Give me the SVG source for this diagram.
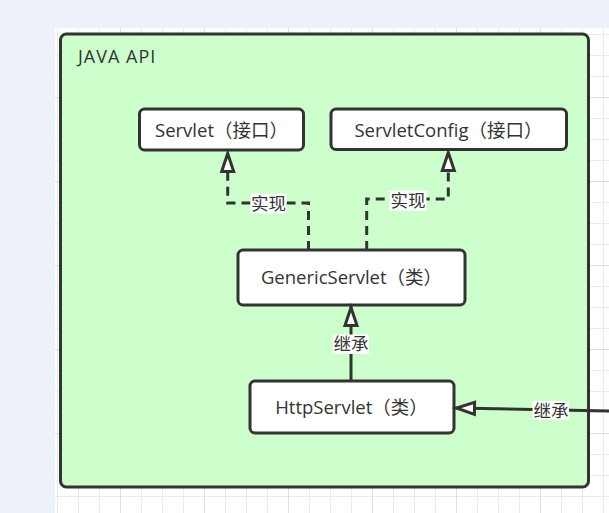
<svg xmlns="http://www.w3.org/2000/svg" width="609" height="513" viewBox="0 0 609 513">
  <style>
    .node rect { fill: #ffffff; stroke: #333333; stroke-width: 3; }
    .node text, .lbl text, .title { font-family: "Open Sans", "Noto Sans CJK SC", sans-serif; fill: #333333; }
    .node text { font-size: 18.5px; text-anchor: middle; }
    .conn path { fill: none; stroke: #333333; stroke-width: 3; }
    .dash { stroke-dasharray: 9 6; }
    .lbl rect { fill: #ffffff; stroke: none; }
    .lbl text { font-size: 17.5px; text-anchor: middle; font-family: "Noto Sans CJK SC", sans-serif; }
  </style>
  <defs>
    <pattern id="gMinor" patternUnits="userSpaceOnUse" x="57" y="34" width="21" height="21">
      <path d="M0.5,0 V21 M0,0.5 H21" fill="none" stroke="#ebebeb" stroke-width="1"/>
    </pattern>
    <pattern id="gMajor" patternUnits="userSpaceOnUse" x="120" y="97" width="84" height="84">
      <path d="M0.5,0 V84 M0,0.5 H84" fill="none" stroke="#dedede" stroke-width="1"/>
    </pattern>
    <marker id="tri" markerUnits="userSpaceOnUse" viewBox="0 0 24 16" refX="21" refY="8" markerWidth="24" markerHeight="16" orient="auto" overflow="visible">
      <path d="M2,2 L20,8 L2,14 Z" fill="#ffffff" stroke="#333333" stroke-width="3" stroke-dasharray="none" stroke-linejoin="miter"/>
    </marker>
  </defs>

  <rect x="0" y="0" width="609" height="513" fill="#edf1f9"/>
  <rect x="55" y="28" width="554" height="485" fill="#ffffff"/>
  <rect x="55" y="28" width="554" height="485" fill="url(#gMinor)"/>
  <rect x="55" y="28" width="554" height="485" fill="url(#gMajor)"/>

  <g id="java-api">
    <rect x="60.5" y="34" width="528" height="453" rx="6" fill="#ccffcc" stroke="#333333" stroke-width="3"/>
    <text class="title" x="78" y="63" font-size="18" letter-spacing="1">JAVA API</text>
  </g>

  <g id="servlet" class="node">
    <rect x="139.5" y="109" width="164" height="41" rx="5"/>
    <text x="221.5" y="136.5">Servlet（接口）</text>
  </g>
  <g id="servletconfig" class="node">
    <rect x="331" y="109" width="235.5" height="40.5" rx="5"/>
    <text x="448.5" y="136.5">ServletConfig（接口）</text>
  </g>
  <g id="genericservlet" class="node">
    <rect x="238" y="250" width="227" height="55" rx="5"/>
    <text x="351.5" y="283.5">GenericServlet（类）</text>
  </g>
  <g id="httpservlet" class="node">
    <rect x="250" y="381" width="204" height="52" rx="5"/>
    <text x="351.5" y="414">HttpServlet（类）</text>
  </g>

  <g id="connectors" class="conn">
    <path class="dash" d="M308.5,250 V203 H227.7 V152.5" marker-end="url(#tri)"/>
    <path class="dash" d="M366.7,250 V199 H448.3 V151.5" marker-end="url(#tri)"/>
    <path d="M351,381 V306.5" marker-end="url(#tri)"/>
    <path d="M612,411 L455.5,408" marker-end="url(#tri)"/>
    <g class="lbl">
      <rect x="250.5" y="193.5" width="36" height="20"/>
      <text x="268.5" y="209.5">实现</text>
      <rect x="389.5" y="190.5" width="37" height="20"/>
      <text x="408" y="206.5">实现</text>
      <rect x="333" y="334.5" width="36" height="19.5"/>
      <text x="351" y="350">继承</text>
      <rect x="532.5" y="401" width="36.5" height="18.5"/>
      <text x="551" y="416.5">继承</text>
    </g>
  </g>
</svg>
